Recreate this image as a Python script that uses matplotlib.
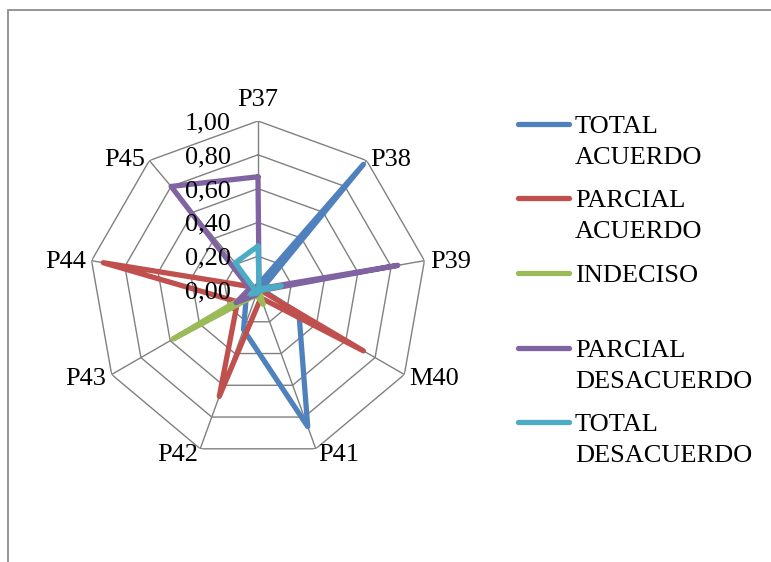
import numpy as np
import matplotlib.pyplot as plt
from matplotlib.lines import Line2D
from matplotlib.patches import Rectangle

plt.rcParams['font.family'] = ['Liberation Serif', 'DejaVu Serif']

categories = ['P37', 'P38', 'P39', 'M40', 'P41', 'P42', 'P43', 'P44', 'P45']
total_acuerdo = [0.03, 0.97, 0.02, 0.28, 0.86, 0.25, 0.08, 0.00, 0.01]
parcial_acuerdo = [0.02, 0.01, 0.01, 0.72, 0.05, 0.67, 0.14, 0.93, 0.02]
indeciso = [0.01, 0.00, 0.00, 0.01, 0.09, 0.03, 0.58, 0.01, 0.00]
parcial_desacuerdo = [0.67, 0.01, 0.84, 0.01, 0.01, 0.03, 0.15, 0.05, 0.80]
total_desacuerdo = [0.26, 0.01, 0.14, 0.01, 0.00, 0.02, 0.05, 0.02, 0.21]
r_ticks = [0.0, 0.2, 0.4, 0.6, 0.8, 1.0]
r_tick_labels = ['0,00', '0,20', '0,40', '0,60', '0,80', '1,00']

series = [
    ('TOTAL ACUERDO', total_acuerdo, '#4F81BD'),
    ('PARCIAL ACUERDO', parcial_acuerdo, '#C0504D'),
    ('INDECISO', indeciso, '#9BBB59'),
    ('PARCIAL DESACUERDO', parcial_desacuerdo, '#8064A2'),
    ('TOTAL DESACUERDO', total_desacuerdo, '#4BACC6'),
]

W, H = 771, 562
FS = 19
fig = plt.figure(figsize=(W / 100, H / 100), dpi=100)

# outer chart frame (only top and left edges visible)
fig.add_artist(Rectangle((8 / W, -0.1), 1.2, 1.1 - 10 / H, transform=fig.transFigure,
                         fill=False, edgecolor='#8c8c8c', lw=1.3, clip_on=False))

cx, cy, R = 258, 290, 169
ax = fig.add_axes([(cx - R) / W, (H - cy - R) / H, 2 * R / W, 2 * R / H], projection='polar')
ax.set_theta_zero_location('N')
ax.set_theta_direction(-1)
ax.set_ylim(0, 1)
ax.grid(False)
ax.spines['polar'].set_visible(False)
ax.set_xticks([])
ax.set_yticks([])
ax.patch.set_visible(False)

n = len(categories)
angles = np.arange(n) * 2 * np.pi / n
closed = np.append(angles, angles[0])

grid_col = '#808080'
for r in r_ticks[1:]:
    ax.plot(closed, [r] * (n + 1), color=grid_col, lw=1.0, zorder=1)
for a in angles:
    ax.plot([a, a], [0, 1], color=grid_col, lw=1.0, zorder=1)

for name, vals, col in series:
    v = np.append(vals, vals[0])
    ax.plot(closed, v, color=col, lw=3.8, solid_joinstyle='round',
            solid_capstyle='round', zorder=3)

# radial tick labels on the P37 axis
for r, lab in zip(r_ticks, r_tick_labels):
    ax.annotate(lab, xy=(0, r), xytext=(-27, 0), textcoords='offset pixels',
                ha='right', va='center_baseline', fontsize=FS, zorder=5)

# category labels
for a, lab in zip(angles, categories):
    dx, dy = np.sin(a), np.cos(a)
    if abs(dx) < 0.1:
        ha = 'center'
        off = (0, 24)
    else:
        ha = 'left' if dx > 0 else 'right'
        off = (6 * dx, 4 * dy)
    ax.annotate(lab, xy=(a, 1), xytext=off, textcoords='offset pixels',
                ha=ha, va='center_baseline', fontsize=FS)

# legend
leg_y = [124, 198, 273, 348, 422]
for (name, vals, col), y in zip(series, leg_y):
    fig.add_artist(Line2D([518 / W, 569 / W], [1 - y / H, 1 - y / H], color=col, lw=3.8,
                          solid_capstyle='round', transform=fig.transFigure))
    for i, word in enumerate(name.split(' ')):
        fig.text(575 / W, 1 - (y + 9 + 31 * i) / H, word, fontsize=FS,
                 ha='left', va='baseline')

fig.savefig('out.png', dpi=100)
